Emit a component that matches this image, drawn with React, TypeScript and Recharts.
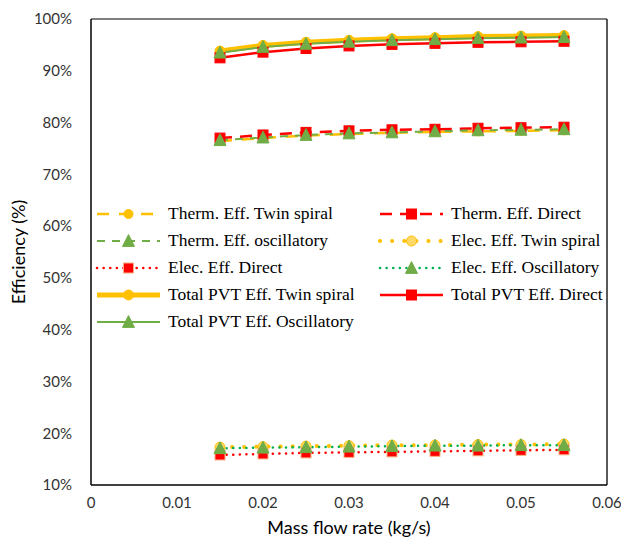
import React from 'react';
import { LineChart, Line, XAxis, YAxis, Legend, ReferenceLine, Label } from 'recharts';

const flowRates = [0.015, 0.02, 0.025, 0.03, 0.035, 0.04, 0.045, 0.05, 0.055];
const thermTwin = [76.4, 77.0, 77.5, 77.8, 78.0, 78.2, 78.3, 78.4, 78.5];
const thermDirect = [77.0, 77.6, 78.1, 78.4, 78.6, 78.7, 78.9, 79.0, 79.1];
const thermOsc = [76.6, 77.1, 77.6, 77.9, 78.1, 78.3, 78.5, 78.6, 78.7];
const elecTwin = [17.3, 17.4, 17.5, 17.6, 17.7, 17.7, 17.8, 17.8, 17.9];
const elecDirect = [15.8, 16.0, 16.2, 16.3, 16.4, 16.5, 16.6, 16.7, 16.8];
const elecOsc = [17.1, 17.2, 17.3, 17.4, 17.5, 17.6, 17.6, 17.7, 17.7];
const totalTwin = [93.8, 94.9, 95.5, 95.9, 96.2, 96.4, 96.6, 96.7, 96.8];
const totalDirect = [92.5, 93.6, 94.3, 94.8, 95.1, 95.3, 95.5, 95.6, 95.7];
const totalOsc = [93.5, 94.6, 95.2, 95.6, 95.9, 96.1, 96.3, 96.4, 96.5];

const xTicks = [0, 0.01, 0.02, 0.03, 0.04, 0.05, 0.06];
const yTicks = [10, 20, 30, 40, 50, 60, 70, 80, 90, 100];

type Shape = 'circle' | 'square' | 'triangle';
interface SeriesDef {
  key: string;
  name: string;
  values: number[];
  color: string;
  width: number;
  dash?: string;
  cap?: 'round' | 'butt';
  shape: Shape;
  size: number;
  fill: string;
  mstroke: string;
}

const series: SeriesDef[] = [
  { key: 'thermTwin', name: 'Therm. Eff. Twin spiral', values: thermTwin, color: '#FFC000', width: 2.5, dash: '12 10', shape: 'circle', size: 9, fill: '#FFC000', mstroke: '#FFC000' },
  { key: 'thermDirect', name: 'Therm. Eff. Direct', values: thermDirect, color: '#FF0000', width: 2.5, dash: '12 8', shape: 'square', size: 10, fill: '#FF0000', mstroke: '#FF0000' },
  { key: 'thermOsc', name: 'Therm. Eff. oscillatory', values: thermOsc, color: '#70AD47', width: 2, dash: '8 7', shape: 'triangle', size: 12, fill: '#70AD47', mstroke: '#70AD47' },
  { key: 'elecTwin', name: 'Elec. Eff. Twin spiral', values: elecTwin, color: '#FFC000', width: 4, dash: '0.1 12', cap: 'round', shape: 'circle', size: 10, fill: '#FFD966', mstroke: '#FFC000' },
  { key: 'elecDirect', name: 'Elec. Eff. Direct', values: elecDirect, color: '#FF0000', width: 2.5, dash: '0.1 6.5', cap: 'round', shape: 'square', size: 10, fill: '#FF0000', mstroke: '#F4B183' },
  { key: 'elecOsc', name: 'Elec. Eff. Oscillatory', values: elecOsc, color: '#00B050', width: 2.5, dash: '0.1 6.5', cap: 'round', shape: 'triangle', size: 12, fill: '#70AD47', mstroke: '#70AD47' },
  { key: 'totalTwin', name: 'Total PVT Eff. Twin spiral', values: totalTwin, color: '#FFC000', width: 5, shape: 'circle', size: 10, fill: '#FFC000', mstroke: '#FFC000' },
  { key: 'totalDirect', name: 'Total PVT Eff. Direct', values: totalDirect, color: '#FF0000', width: 2.5, shape: 'square', size: 10, fill: '#FF0000', mstroke: '#FF0000' },
  { key: 'totalOsc', name: 'Total PVT Eff. Oscillatory', values: totalOsc, color: '#70AD47', width: 2, shape: 'triangle', size: 12, fill: '#70AD47', mstroke: '#70AD47' },
];

const data = flowRates.map((x, i) => {
  const row: Record<string, number> = { x };
  series.forEach((s) => {
    row[s.key] = s.values[i];
  });
  return row;
});

function Marker({ shape, cx, cy, size, fill, stroke }: { shape: Shape; cx: number; cy: number; size: number; fill: string; stroke: string }) {
  if (shape === 'circle') {
    return <circle cx={cx} cy={cy} r={size / 2} fill={fill} stroke={stroke} strokeWidth={1} />;
  }
  if (shape === 'square') {
    return <rect x={cx - size / 2} y={cy - size / 2} width={size} height={size} fill={fill} stroke={stroke} strokeWidth={1} />;
  }
  const h = size * 0.9;
  const pts = `${cx},${cy - h / 2 - 1} ${cx - size / 2},${cy + h / 2} ${cx + size / 2},${cy + h / 2}`;
  return <polygon points={pts} fill={fill} stroke={stroke} strokeWidth={1} />;
}

const legendFont = '"Liberation Serif", "Times New Roman", serif';

function LegendItem({ s }: { s: SeriesDef }) {
  return (
    <div style={{ display: 'flex', alignItems: 'center', height: 27 }}>
      <svg width={67} height={20} style={{ flex: '0 0 auto' }}>
        <line x1={2} y1={10} x2={65} y2={10} stroke={s.color} strokeWidth={s.width} strokeDasharray={s.dash} strokeLinecap={s.cap || 'butt'} />
        <Marker shape={s.shape} cx={33.5} cy={10} size={s.size} fill={s.fill} stroke={s.mstroke} />
      </svg>
      <span style={{ marginLeft: 6, fontFamily: legendFont, fontSize: 17.5, color: '#000', whiteSpace: 'nowrap' }}>{s.name}</span>
    </div>
  );
}

function CustomLegend() {
  return (
    <div style={{ display: 'grid', gridTemplateColumns: '283px 220px' }}>
      {series.map((s) => (
        <LegendItem key={s.key} s={s} />
      ))}
    </div>
  );
}

const tickFont = { fill: '#333', fontSize: 15, fontFamily: 'Lato, "Noto Sans", sans-serif' };

export default function App() {
  return (
    <LineChart width={621} height={530} data={data} margin={{ top: 11, right: 22, left: 0, bottom: 0 }}>
      <XAxis
        type="number"
        dataKey="x"
        domain={[0, 0.06]}
        ticks={xTicks}
        tickFormatter={(v: number) => (v === 0 ? '0' : String(v))}
        tickLine={false}
        axisLine={{ stroke: '#000', strokeWidth: 1.5 }}
        tick={tickFont}
        tickMargin={6}
        height={53}
      >
        <Label value="Mass flow rate (kg/s)" position="insideBottom" offset={4} style={{ fill: '#000', fontSize: 18, fontFamily: 'Lato, "Noto Sans", sans-serif' }} />
      </XAxis>
      <YAxis
        type="number"
        domain={[10, 100]}
        ticks={yTicks}
        tickFormatter={(v: number) => `${v}%`}
        tickLine={false}
        axisLine={{ stroke: '#000', strokeWidth: 1.5 }}
        tick={tickFont}
        tickMargin={13}
        width={83}
        allowDataOverflow
      >
        <Label value="Efficiency (%)" angle={-90} position="center" dx={-31} style={{ fill: '#000', fontSize: 18, fontFamily: 'Lato, "Noto Sans", sans-serif', textAnchor: 'middle' }} />
      </YAxis>
      <ReferenceLine y={100} stroke="#555" strokeWidth={1.5} />
      <ReferenceLine x={0.06} stroke="#222" strokeWidth={1.5} />
      {series.map((s) => (
        <Line
          key={s.key}
          dataKey={s.key}
          name={s.name}
          stroke={s.color}
          strokeWidth={s.width}
          strokeDasharray={s.dash}
          strokeLinecap={s.cap || 'butt'}
          isAnimationActive={false}
          activeDot={false}
          dot={(p: any) => <Marker key={`${s.key}-${p.index}`} shape={s.shape} cx={p.cx} cy={p.cy} size={s.size} fill={s.fill} stroke={s.mstroke} />}
        />
      ))}
      <Legend
        layout="horizontal"
        verticalAlign="middle"
        align="center"
        content={() => <CustomLegend />}
        wrapperStyle={{ position: 'absolute', left: 87, top: 192, width: 503, height: 'auto' }}
      />
    </LineChart>
  );
}
